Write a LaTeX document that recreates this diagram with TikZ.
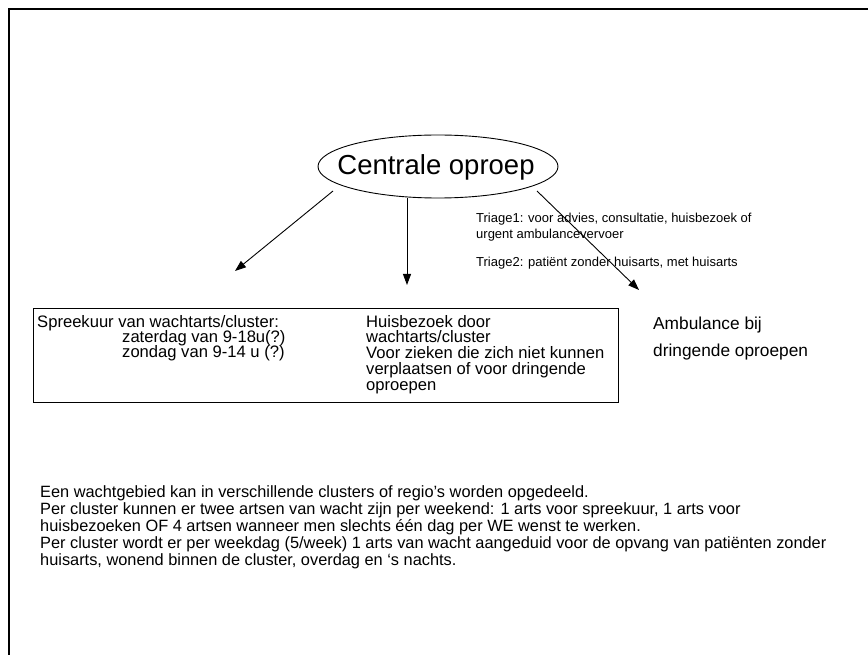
\documentclass[tikz,border=0pt]{standalone}
\usepackage{fontspec}
\setmainfont{Liberation Sans}
\usetikzlibrary{arrows.meta,shapes.geometric}
\tikzset{
  frame/.style={line width=2pt,line cap=rect},
  conn/.style={line width=0.9pt,-{Triangle[length=11pt,width=8pt]}},
  bigtext/.style={inner sep=0pt,font=\fontsize{27.5}{30}\selectfont},
  smalltext/.style={anchor=base west,inner sep=0pt,font=\fontsize{13}{14}\selectfont},
  boxtext/.style={anchor=base west,inner sep=0pt,font=\fontsize{16.6}{17}\selectfont},
  ambtext/.style={anchor=base west,inner sep=0pt,font=\fontsize{17.3}{22}\selectfont},
  paratext/.style={anchor=base west,inner sep=0pt,font=\fontsize{16.35}{17}\selectfont},
}
\begin{document}
\begin{tikzpicture}[x=1pt,y=-1pt]
\useasboundingbox (0,0) rectangle (868,655);
% frame
\draw[frame] (868,9) -- (9,9) -- (9,655);
% central ellipse
\node[ellipse,draw,line width=0.9pt,minimum width=240pt,minimum height=63pt,inner sep=0pt] (co) at (438,166.5) {};
\node[bigtext] (cot) at (436,167) {Centrale oproep};
% arrow coordinates
\coordinate (s1) at (333,191);
\coordinate (e1) at (235,271);
\coordinate (s2) at (407,198);
\coordinate (e2) at (407,285);
\coordinate (s3) at (537,191);
\coordinate (e3) at (639,290);
\draw[conn] (s1) -- (e1);
\draw[conn] (s2) -- (e2);
% triage text
\node[smalltext] (t1) at (476,223) {Triage1: voor advies, consultatie, huisbezoek of};
\node[smalltext] (t2) at (476,239) {urgent ambulancevervoer};
\node[smalltext] (t3) at (476,267) {Triage2: pati\"ent zonder huisarts, met huisarts};
\draw[conn] (s3) -- (e3);
% box
\node[draw,line width=0.9pt,minimum width=585pt,minimum height=94pt,inner sep=0pt,anchor=north west] (box) at (33,308) {};
\node[boxtext] (l1) at (37,327) {Spreekuur van wachtarts/cluster:};
\node[boxtext] (l2) at (122,342) {zaterdag van 9-18u(?)};
\node[boxtext] (l3) at (122,357) {zondag van 9-14 u (?)};
\node[boxtext] (h1) at (366,327) {Huisbezoek door};
\node[boxtext] (h2) at (366,342) {wachtarts/cluster};
\node[boxtext] (h3) at (366,358) {Voor zieken die zich niet kunnen};
\node[boxtext] (h4) at (366,374) {verplaatsen of voor dringende};
\node[boxtext] (h5) at (366,390) {oproepen};
% ambulance
\node[ambtext] (a1) at (653,329) {Ambulance bij};
\node[ambtext] (a2) at (653,356) {dringende oproepen};
% paragraph
\node[paratext] (p1) at (40,497) {Een wachtgebied kan in verschillende clusters of regio’s worden opgedeeld.};
\node[paratext] (p2) at (40,514) {Per cluster kunnen er twee artsen van wacht zijn per weekend: 1 arts voor spreekuur, 1 arts voor};
\node[paratext] (p3) at (40,531) {huisbezoeken OF 4 artsen wanneer men slechts \'e\'en dag per WE wenst te werken.};
\node[paratext] (p4) at (40,548) {Per cluster wordt er per weekdag (5/week) 1 arts van wacht aangeduid voor de opvang van pati\"enten zonder};
\node[paratext] (p5) at (40,565) {huisarts, wonend binnen de cluster, overdag en ‘s nachts.};
\end{tikzpicture}
\end{document}
